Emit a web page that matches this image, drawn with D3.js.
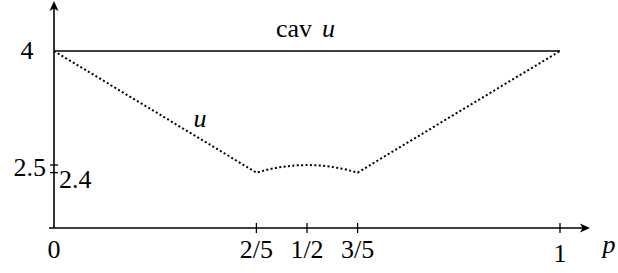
<!DOCTYPE html>
<html>
<head>
<meta charset="utf-8">
<script src="https://cdn.jsdelivr.net/npm/d3@7"></script>
<style>
body { margin: 0; background: #fff; }
</style>
</head>
<body>
<svg id="chart" width="618" height="273"></svg>
<script>
// u(p): straight down to 2/5, small arc up to 1/2, back down to 3/5, straight up to 1
var pValues = [0, 0.4, 0.425, 0.45, 0.475, 0.5, 0.525, 0.55, 0.575, 0.6, 1];
var uValues = [4, 2.4, 2.444, 2.475, 2.494, 2.5, 2.494, 2.475, 2.444, 2.4, 4];
// cav u is flat at 4
var cavP = [0, 1];
var cavU = [4, 4];
var xTicks = [0.4, 0.5, 0.6, 1];
var xTickLabels = ['2/5', '1/2', '3/5', '1'];
var yTicks = [2.5, 2.4];

var svg = d3.select('#chart');

var x = d3.scaleLinear().domain([0, 1]).range([54, 560]);
var y = d3.scaleLinear().domain([2.5, 4]).range([165, 51]);

var axisY = 228;
var xEnd = 590, yEnd = 1;

// labels: no text-anchor, shift by measured width instead
function label(xp, yp, txt, anchor, italic) {
  var t = svg.append('text')
    .attr('x', xp).attr('y', yp)
    .attr('font-family', 'Liberation Serif')
    .attr('font-size', 26)
    .attr('font-style', italic ? 'italic' : 'normal')
    .text(txt);
  var w = t.node().getComputedTextLength();
  if (anchor == 'middle') t.attr('x', xp - w / 2);
  if (anchor == 'end') t.attr('x', xp - w);
  return t;
}

xTicks.forEach(function(d, i) {
  label(x(d), d == 1 ? 262 : 258, xTickLabels[i], 'middle', false);
});
label(x(0), 258, '0', 'middle', false);
label(609, 253, 'p', 'middle', true);

label(x(0) - 27, y(4) + 8, '4', 'middle', false);
label(x(0) - 8, y(2.5) + 11, '2.5', 'end', false);
label(x(0) + 5, y(2.4) + 15, '2.4', 'start', false);

label(276, 37, 'cav', 'start', false);
label(322, 37, 'u', 'start', true);
label(200, 127, 'u', 'middle', true);

// axes
svg.append('line')
  .attr('x1', x(0) - 5).attr('y1', axisY)
  .attr('x2', xEnd - 4).attr('y2', axisY)
  .attr('stroke', '#000').attr('stroke-width', 1.6);
svg.append('line')
  .attr('x1', x(0)).attr('y1', axisY)
  .attr('x2', x(0)).attr('y2', yEnd + 4)
  .attr('stroke', '#000').attr('stroke-width', 1.6);
// arrow heads
svg.append('path')
  .attr('d', 'M' + xEnd + ',' + axisY + ' l-10,-4.5 l2.5,4.5 l-2.5,4.5 z')
  .attr('fill', '#000');
svg.append('path')
  .attr('d', 'M' + x(0) + ',' + yEnd + ' l-4.5,10 l4.5,-2.5 l4.5,2.5 z')
  .attr('fill', '#000');

// x ticks
svg.selectAll('.xtick').data(xTicks).enter().append('line')
  .attr('x1', function(d) { return x(d); })
  .attr('x2', function(d) { return x(d); })
  .attr('y1', axisY - 5).attr('y2', axisY + 5)
  .attr('stroke', '#000').attr('stroke-width', 1.3);

// y ticks
svg.selectAll('.ytick').data(yTicks).enter().append('line')
  .attr('x1', x(0) - 4).attr('x2', x(0) + 4)
  .attr('y1', function(d) { return y(d); })
  .attr('y2', function(d) { return y(d); })
  .attr('stroke', '#000').attr('stroke-width', 1.3);

var line = d3.line()
  .x(function(d) { return x(d[0]); })
  .y(function(d) { return y(d[1]); });

// cav u
svg.append('path')
  .datum(d3.zip(cavP, cavU))
  .attr('d', line)
  .attr('fill', 'none')
  .attr('stroke', '#000').attr('stroke-width', 1.6);

// u dotted
svg.append('path')
  .datum(d3.zip(pValues, uValues))
  .attr('d', line)
  .attr('fill', 'none')
  .attr('stroke', '#000').attr('stroke-width', 2)
  .attr('stroke-dasharray', '2 2.4');
</script>
</body>
</html>
